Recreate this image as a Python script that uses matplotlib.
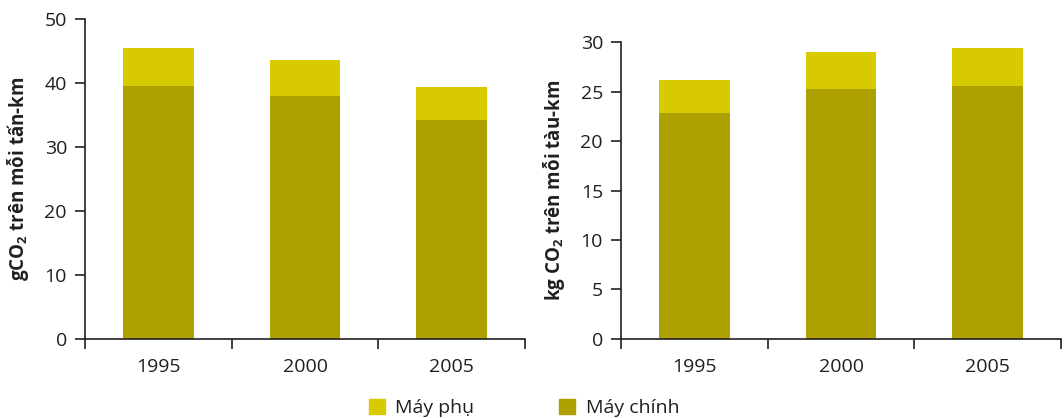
import matplotlib
matplotlib.use("Agg")
import matplotlib.pyplot as plt
import numpy as np
from matplotlib.patches import Patch

# data
years = ["1995", "2000", "2005"]
left_main = [39.5, 37.9, 34.2]
left_aux = [5.9, 5.6, 5.1]
right_main = [22.8, 25.25, 25.6]
right_aux = [3.4, 3.75, 3.8]

c_main = "#AEA000"
c_aux = "#D8CA00"
c_text = "#231F20"

plt.rcParams["font.family"] = ["Open Sans", "DejaVu Sans"]
plt.rcParams["mathtext.fontset"] = "custom"
plt.rcParams["mathtext.rm"] = "Open Sans:bold"
plt.rcParams["mathtext.default"] = "rm"
plt.rcParams["font.size"] = 14
plt.rcParams["text.color"] = c_text
plt.rcParams["axes.labelcolor"] = c_text
plt.rcParams["xtick.color"] = c_text
plt.rcParams["ytick.color"] = c_text

fig = plt.figure(figsize=(10.64, 4.18), dpi=100)
ax1 = fig.add_axes([85/1064, 1-338.7/418, 440/1064, 320/418])
ax2 = fig.add_axes([621/1064, 1-338.7/418, 440/1064, 296.4/418])


def draw(ax, main, aux, ymax, step, label):
    x = np.arange(len(years))
    ax.bar(x, main, width=0.48, color=c_main, linewidth=0)
    ax.bar(x, aux, bottom=main, width=0.48, color=c_aux, linewidth=0)
    ax.set_xlim(-0.5, len(years)-0.5)
    ax.set_ylim(0, ymax)
    ax.set_yticks(np.arange(0, ymax+1, step))
    # tick marks between the groups, labels under the bars
    ax.set_xticks(np.arange(-0.5, len(years)))
    ax.set_xticklabels([])
    ax.set_xticks(x, minor=True)
    ax.set_xticklabels(years, minor=True)
    ax.tick_params(axis="x", which="major", direction="out", length=7, width=1.2)
    ax.tick_params(axis="x", which="minor", length=0, pad=14)
    ax.tick_params(axis="y", direction="out", length=7, width=1.2, pad=6)
    for s in ["top", "right"]:
        ax.spines[s].set_visible(False)
    for s in ["left", "bottom"]:
        ax.spines[s].set_linewidth(1.2)
        ax.spines[s].set_color(c_text)
    ax.set_ylabel(label, fontweight="bold", fontsize=13.5, labelpad=10)


draw(ax1, left_main, left_aux, 50, 10, "gCO$_2$ trên mỗi tấn-km")
draw(ax2, right_main, right_aux, 30, 5, "kg CO$_2$ trên mỗi tàu-km")

handles = [Patch(color=c_aux, label="Máy phụ"), Patch(color=c_main, label="Máy chính")]
fig.legend(handles=handles, loc="center", bbox_to_anchor=(0.4925, 0.024), ncol=2,
           frameon=False, fontsize=14, handlelength=0.82, handleheight=0.82,
           handletextpad=0.55, columnspacing=4.35, borderpad=0)

fig.savefig("out.png", dpi=100)
plt.close(fig)
